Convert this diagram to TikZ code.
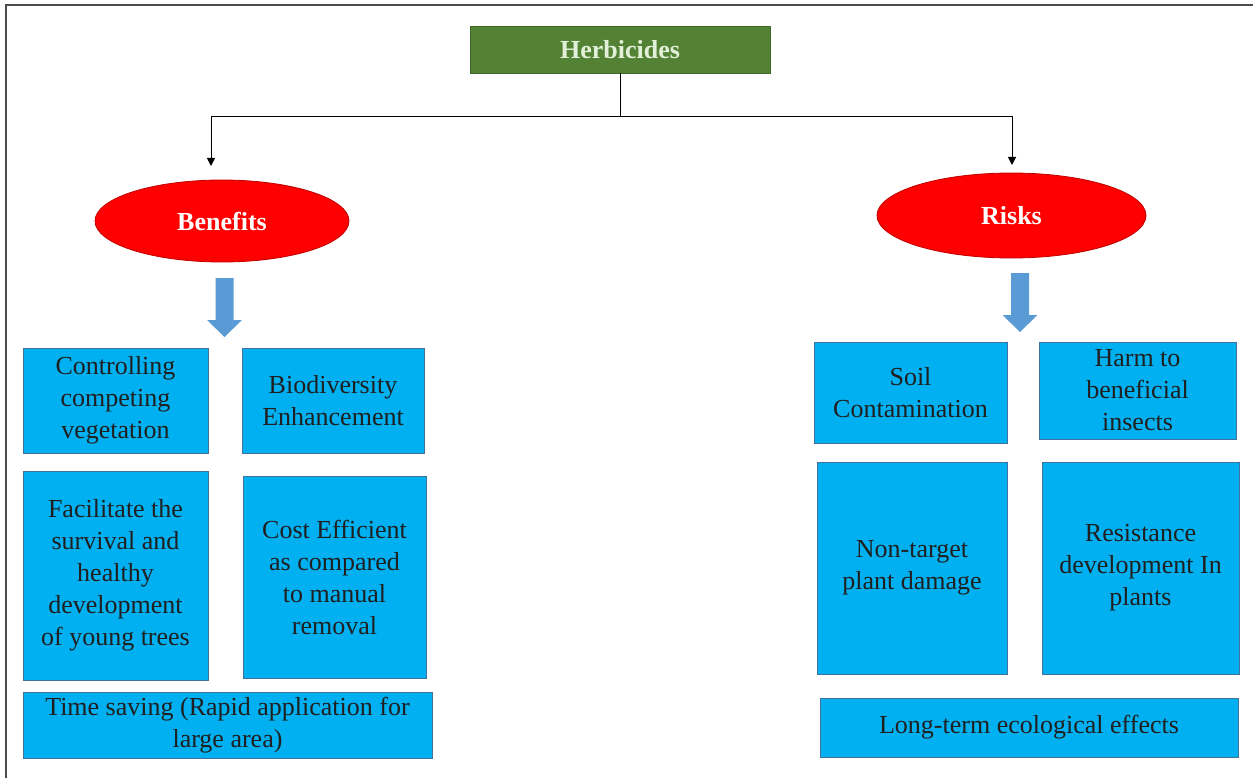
\documentclass[tikz,border=0pt]{standalone}
\usepackage{fontspec}
\setmainfont{Liberation Serif}
\usetikzlibrary{shapes.geometric,arrows.meta}
\definecolor{herbgreen}{RGB}{84,130,53}
\definecolor{herbtext}{RGB}{226,240,217}
\definecolor{boxblue}{RGB}{0,176,240}
\definecolor{boxline}{RGB}{65,113,156}
\definecolor{arrowblue}{RGB}{91,155,213}
\definecolor{ovalred}{RGB}{255,0,0}
\definecolor{ovalline}{RGB}{192,0,0}
\tikzset{
	item/.style={draw=boxline, line width=0.8pt, fill=boxblue, inner sep=0pt, align=center,
		text=black!88, font=\fontsize{26}{32}\selectfont},
	oval/.style={ellipse, draw=ovalline, line width=0.8pt, fill=ovalred, inner sep=0pt,
		text=white, font=\bfseries\fontsize{26}{32}\selectfont},
	conn/.style={line width=1pt, -{Triangle[width=8pt,length=8pt]}},
	downarrow/.pic={\fill[arrowblue] (-9,0) -- (9,0) -- (9,42) -- (17.5,42) -- (0,59)
		-- (-17.5,42) -- (-9,42) -- cycle;}
}
\begin{document}
\begin{tikzpicture}[x=1pt,y=-1pt]
	\useasboundingbox (0,0) rectangle (1253,778);
	% frame
	\draw[line width=2pt, black!70] (6,778) -- (6,5) -- (1253,5);
	% top
	\node[fill=herbgreen, draw=herbgreen!80!black, line width=0.8pt, inner sep=0pt,
		minimum width=300pt, minimum height=47pt, text=herbtext,
		font=\bfseries\fontsize{26}{32}\selectfont] (herb) at (620,49.5) {Herbicides};
	\node[oval, minimum width=254pt, minimum height=82pt] (ben) at (222,221) {Benefits};
	\node[oval, minimum width=269pt, minimum height=85pt] (risk) at (1011.5,215.5) {Risks};
	\coordinate (benTip) at (211,166);
	\coordinate (riskTip) at (1012,165);
	\draw[line width=1pt] (herb.south) -- ++(0,43) coordinate (split);
	\draw[conn] (split) -| (benTip);
	\draw[conn] (split) -| (riskTip);
	\pic at (224.5,278) {downarrow};
	\pic at (1020,273) {downarrow};
	% benefits
	\node[item, minimum width=185pt, minimum height=105pt] (ctrl) at (115.5,400.5) {Controlling\\competing\\vegetation};
	\node[item, minimum width=182pt, minimum height=105pt] (bio) at (333,400.5) {Biodiversity\\Enhancement};
	\node[item, minimum width=185pt, minimum height=209pt] (facil) at (115.5,575.5) {Facilitate the\\survival and\\healthy\\development\\of young trees};
	\node[item, minimum width=183pt, minimum height=202pt] (cost) at (334.5,577) {Cost Efficient\\as compared\\to manual\\removal};
	\node[item, minimum width=409pt, minimum height=66pt] (time) at (227.5,725) {Time saving (Rapid application for\\large area)};
	% risks
	\node[item, minimum width=193pt, minimum height=101pt] (soil) at (910.5,392.5) {Soil\\Contamination};
	\node[item, minimum width=197pt, minimum height=97pt] (harm) at (1137.5,390.5) {Harm to\\beneficial\\insects};
	\node[item, minimum width=190pt, minimum height=212pt] (nontarget) at (912,568) {Non-target\\plant damage};
	\node[item, minimum width=197pt, minimum height=212pt] (resist) at (1140.5,568) {Resistance\\development In\\plants};
	\node[item, minimum width=418pt, minimum height=59pt] (longterm) at (1029,727.5) {Long-term ecological effects};
\end{tikzpicture}
\end{document}
